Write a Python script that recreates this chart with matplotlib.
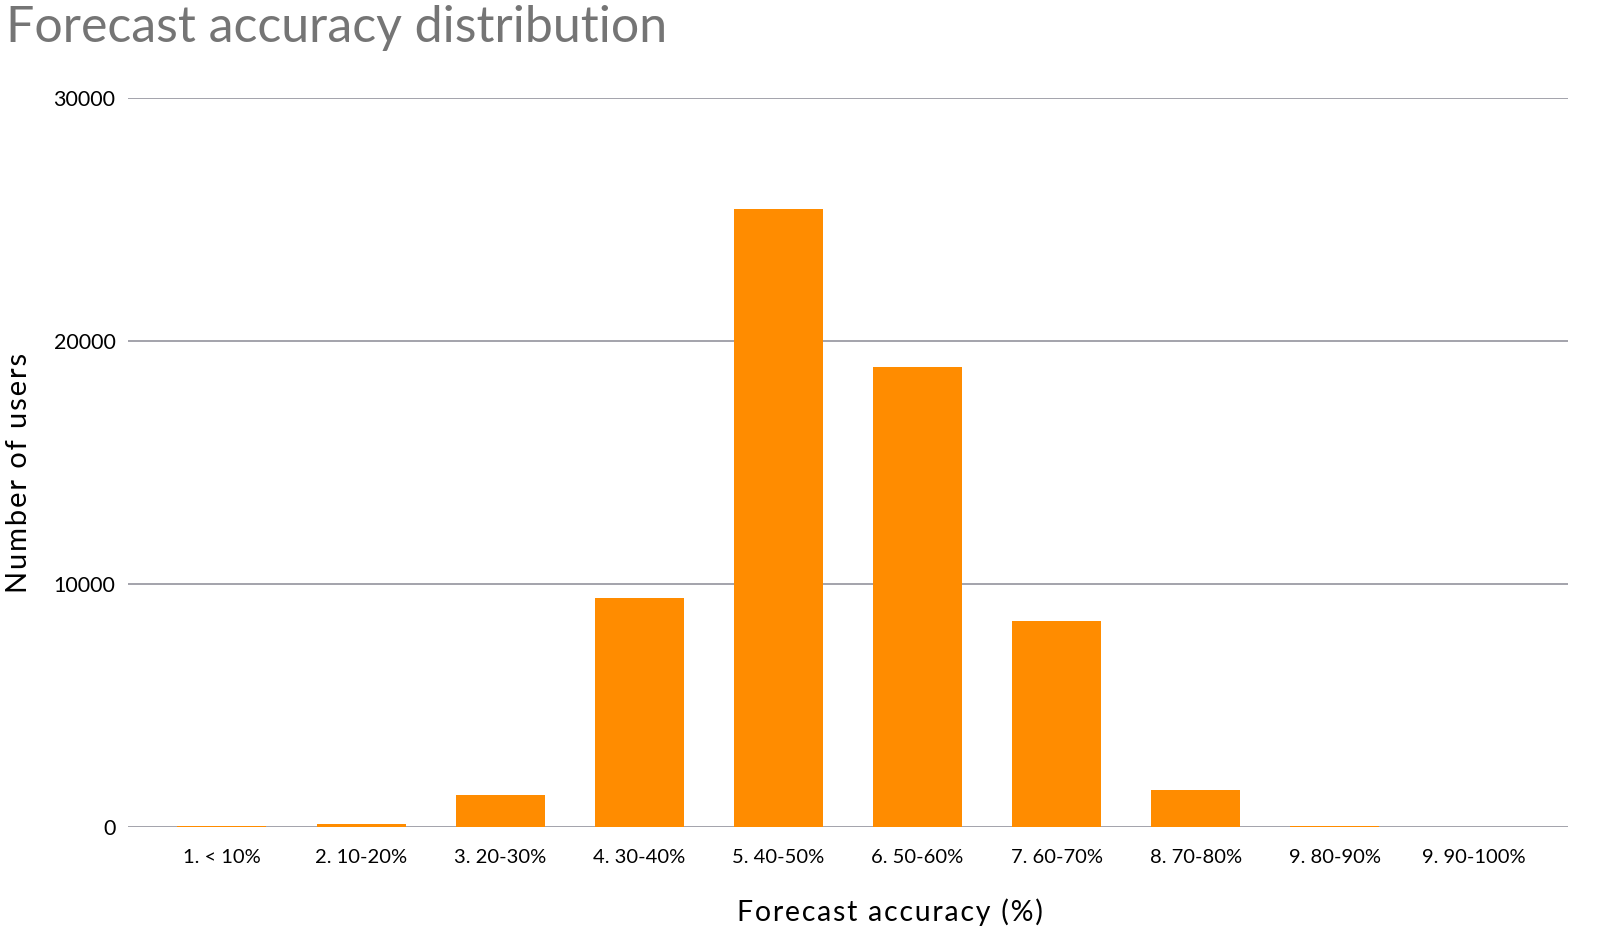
import matplotlib
matplotlib.use("Agg")
import matplotlib.pyplot as plt
import numpy as np

categories = ["1. < 10%", "2. 10-20%", "3. 20-30%", "4. 30-40%", "5. 40-50%",
              "6. 50-60%", "7. 60-70%", "8. 70-80%", "9. 80-90%", "9. 90-100%"]
users = [40, 120, 1320, 9420, 25420, 18920, 8480, 1530, 40, 8]
yticks = [0, 10000, 20000, 30000]

plt.rcParams['font.family'] = ['Lato', 'DejaVu Sans']

def spaced(s):
    return "\u200a".join(s)

fig = plt.figure(figsize=(16, 9.48), dpi=100)
ax = fig.add_axes([0.08, 1 - 827/948, 0.90, (827 - 98)/948])

x = np.arange(len(categories))
ax.bar(x, users, width=0.64, color="#FF8C00", zorder=3)

ax.set_xlim(-0.675, len(categories) - 1 + 0.675)
ax.set_ylim(0, 30000)
ax.set_yticks(yticks)
ax.set_yticklabels([str(v) for v in yticks], fontsize=15.5)
ax.set_xticks(x)
ax.set_xticklabels(categories, fontsize=14.5)
ax.tick_params(axis='y', length=0, pad=9)
ax.tick_params(axis='x', length=0, pad=16)

ax.grid(axis='y', color="#A3A3AB", linewidth=1.4, zorder=0)
for s in ax.spines.values():
    s.set_visible(False)

ax.set_xlabel(spaced("Forecast accuracy (%)"), fontsize=20.5)
ax.xaxis.set_label_coords(0.529, -0.098)
ax.set_ylabel(spaced("Number of users"), fontsize=21)
ax.yaxis.set_label_coords(-0.067, 0.486)

fig.text(0.004, 0.995, "Forecast accuracy distribution", fontsize=36,
         color="#757575", ha="left", va="top")

fig.savefig("out.png", dpi=100, facecolor="white")
